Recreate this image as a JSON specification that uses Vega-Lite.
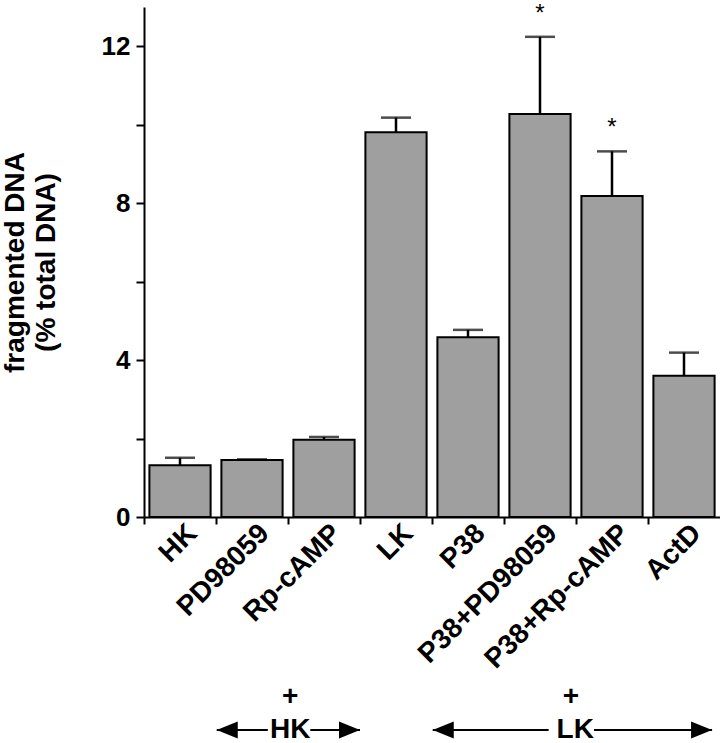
{
  "$schema": "https://vega.github.io/schema/vega-lite/v6.json",
  "width": 576,
  "height": 510,
  "autosize": {"type": "none"},
  "padding": {"left": 144, "top": 7, "right": 0, "bottom": 226},
  "background": "white",
  "config": {
    "view": {"stroke": null},
    "font": "Liberation Sans",
    "axisY": {
      "labelFontSize": 26, "labelFontWeight": "bold", "labelColor": "black",
      "tickColor": "black", "tickSize": 8, "tickWidth": 2,
      "domainColor": "black", "domainWidth": 2, "labelPadding": 6, "grid": false,
      "titleFontSize": 28, "titleFontWeight": "bold", "titleColor": "black",
      "titlePadding": 41, "titleLineHeight": 31
    }
  },
  "datasets": {
    "bars": [
      {"treatment": "HK", "mean": 1.32, "upper": 1.51, "sig": ""},
      {"treatment": "PD98059", "mean": 1.45, "upper": 1.47, "sig": ""},
      {"treatment": "Rp-cAMP", "mean": 1.97, "upper": 2.04, "sig": ""},
      {"treatment": "LK", "mean": 9.81, "upper": 10.18, "sig": ""},
      {"treatment": "P38", "mean": 4.58, "upper": 4.77, "sig": ""},
      {"treatment": "P38+PD98059", "mean": 10.27, "upper": 12.24, "sig": "*"},
      {"treatment": "P38+Rp-cAMP", "mean": 8.18, "upper": 9.32, "sig": "*"},
      {"treatment": "ActD", "mean": 3.6, "upper": 4.19, "sig": ""}
    ],
    "segments": [
      {"group": "HK", "from": 1.01, "to": 1.72},
      {"group": "HK", "from": 2.31, "to": 3.0},
      {"group": "LK", "from": 4.01, "to": 5.62},
      {"group": "LK", "from": 6.25, "to": 7.89}
    ],
    "heads": [
      {"group": "HK", "tip": 1.01, "dir": "left"},
      {"group": "HK", "tip": 3.0, "dir": "right"},
      {"group": "LK", "tip": 4.01, "dir": "left"},
      {"group": "LK", "tip": 7.89, "dir": "right"}
    ],
    "groups": [
      {"group": "HK", "center": 2.03, "plus": 2.03},
      {"group": "LK", "center": 5.99, "plus": 5.93}
    ]
  },
  "layer": [
    {
      "data": {"name": "bars"},
      "layer": [
        {
          "mark": {"type": "bar", "fill": "#9f9f9f", "stroke": "black", "strokeWidth": 2},
          "encoding": {
            "x": {
              "field": "treatment", "type": "nominal", "sort": null,
              "scale": {"paddingInner": 0.15, "paddingOuter": 0.075},
              "axis": {
                "title": null, "labelAngle": -45, "labelFontSize": 28, "labelFontWeight": "bold",
                "labelColor": "black", "bandPosition": -0.0882, "labelOffset": 3,
                "tickSize": 7, "tickWidth": 2, "tickColor": "black",
                "domainColor": "black", "domainWidth": 2, "labelPadding": -5,
                "labelBound": false, "labelOverlap": false, "labelLimit": 400
              }
            },
            "y": {
              "field": "mean", "type": "quantitative",
              "scale": {"domain": [0, 13], "nice": false},
              "axis": {
                "values": [0, 2, 4, 6, 8, 10, 12],
                "labelExpr": "datum.value % 4 === 0 ? datum.label : ''",
                "title": ["fragmented DNA", "(% total DNA)"]
              }
            }
          }
        },
        {
          "mark": {"type": "rule", "strokeWidth": 2.5, "color": "black"},
          "encoding": {
            "x": {"field": "treatment", "type": "nominal", "sort": null},
            "y": {"field": "mean", "type": "quantitative"},
            "y2": {"field": "upper"}
          }
        },
        {
          "mark": {"type": "tick", "thickness": 2.5, "size": 30, "color": "black"},
          "encoding": {
            "x": {"field": "treatment", "type": "nominal", "sort": null},
            "y": {"field": "upper", "type": "quantitative"}
          }
        },
        {
          "transform": [{"filter": "datum.sig != ''"}],
          "mark": {"type": "text", "fontSize": 24, "dy": -23, "baseline": "middle", "color": "black"},
          "encoding": {
            "x": {"field": "treatment", "type": "nominal", "sort": null},
            "y": {"field": "upper", "type": "quantitative"},
            "text": {"field": "sig"}
          }
        }
      ]
    },
    {
      "layer": [
        {
          "data": {"name": "segments"},
          "mark": {"type": "rule", "strokeWidth": 2, "color": "black"},
          "encoding": {
            "x": {"field": "from", "type": "quantitative", "scale": {"domain": [0, 8], "nice": false, "zero": false}, "axis": null},
            "x2": {"field": "to"},
            "y": {"datum": -5.43, "type": "quantitative"}
          }
        },
        {
          "data": {"name": "heads"},
          "mark": {"type": "point", "filled": true, "color": "black", "opacity": 1, "size": 441, "strokeWidth": 0},
          "encoding": {
            "x": {"field": "tip", "type": "quantitative", "scale": {"domain": [0, 8], "nice": false, "zero": false}, "axis": null},
            "y": {"datum": -5.43, "type": "quantitative"},
            "shape": {"field": "dir", "type": "nominal", "scale": {"domain": ["left", "right"], "range": ["M0,0L2,-0.8L2,0.8Z", "M0,0L-2,-0.8L-2,0.8Z"]}, "legend": null}
          }
        },
        {
          "data": {"name": "groups"},
          "mark": {"type": "text", "fontSize": 28, "fontWeight": "bold", "baseline": "middle", "align": "center", "color": "black"},
          "encoding": {
            "x": {"field": "center", "type": "quantitative", "scale": {"domain": [0, 8], "nice": false, "zero": false}, "axis": null},
            "y": {"datum": -5.43, "type": "quantitative"},
            "text": {"field": "group"}
          }
        },
        {
          "data": {"name": "groups"},
          "mark": {"type": "text", "fontSize": 28, "fontWeight": "bold", "baseline": "middle", "align": "center", "color": "black", "text": "+"},
          "encoding": {
            "x": {"field": "plus", "type": "quantitative", "scale": {"domain": [0, 8], "nice": false, "zero": false}, "axis": null},
            "y": {"datum": -4.59, "type": "quantitative"}
          }
        }
      ]
    }
  ],
  "resolve": {"scale": {"x": "independent"}}
}
